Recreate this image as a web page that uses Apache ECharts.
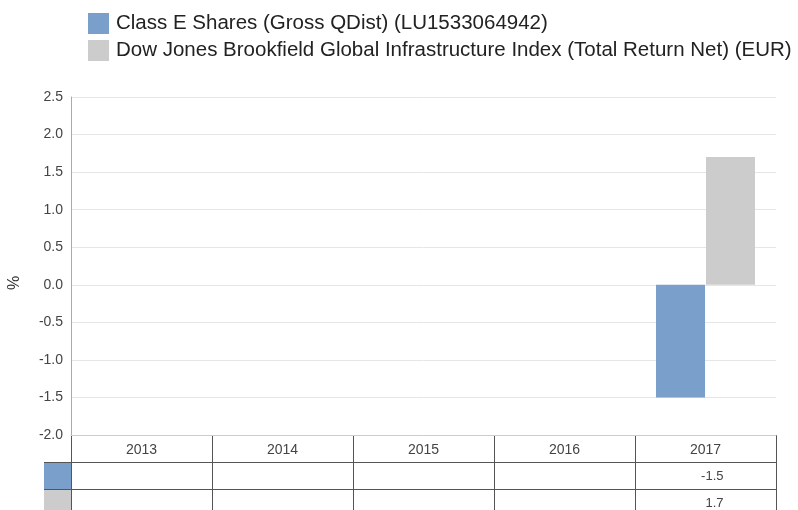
<!DOCTYPE html>
<html>
<head>
<meta charset="utf-8">
<script src="https://cdn.jsdelivr.net/npm/echarts@6/dist/echarts.min.js"></script>
<style>
  html, body { margin: 0; padding: 0; background: #fff; }
  #chart { width: 798px; height: 510px; }
</style>
</head>
<body>
<div id="chart"></div>
<script>
// 数据
var years = ['2013', '2014', '2015', '2016', '2017'];
var seriesNames = [
  'Class E Shares (Gross QDist) (LU1533064942)',
  'Dow Jones Brookfield Global Infrastructure Index (Total Return Net) (EUR)'
];
var fundValues = [null, null, null, null, -1.5];
var indexValues = [null, null, null, null, 1.7];
var colors = ['#7a9fcb', '#cccccc'];

var FONT = '"Liberation Sans", Arial, sans-serif';

var myChart = echarts.init(document.getElementById('chart'));

var option = {
  animation: false,
  textStyle: { fontFamily: FONT },
  legend: {
    orient: 'vertical',
    left: 88,
    top: 13,
    padding: 0,
    itemWidth: 21,
    itemHeight: 21,
    itemGap: 6,
    icon: 'rect',
    textStyle: { fontSize: 20.5, color: '#222', fontFamily: FONT, padding: [0, 0, 0, 2] },
    data: seriesNames
  },
  grid: { left: 71, right: 22, top: 97, bottom: 75, containLabel: false, outerBoundsMode: 'none' },
  xAxis: {
    type: 'category',
    data: years,
    position: 'bottom',
    axisLine: { onZero: false, lineStyle: { color: '#cccccc', width: 1 } },
    axisTick: { show: false },
    axisLabel: { fontSize: 14, color: '#444', margin: 8 },
    splitLine: { show: false }
  },
  yAxis: {
    type: 'value',
    min: -2,
    max: 2.5,
    interval: 0.5,
    name: '%',
    nameLocation: 'middle',
    nameGap: 48,
    nameRotate: 90,
    nameTextStyle: { fontSize: 16, color: '#333', padding: [0, 34, 0, 0] },
    axisLine: { show: true, lineStyle: { color: '#aaaaaa' } },
    axisTick: { show: false },
    axisLabel: {
      fontSize: 14, color: '#444', margin: 8,
      formatter: function (v) { return v.toFixed(1); }
    },
    splitLine: { lineStyle: { color: '#e6e6e6' } }
  },
  series: [
    {
      name: seriesNames[0],
      type: 'bar',
      data: fundValues,
      barWidth: 49,
      barGap: '2%',
      itemStyle: { color: colors[0] }
    },
    {
      name: seriesNames[1],
      type: 'bar',
      data: indexValues,
      barWidth: 49,
      itemStyle: { color: colors[1] }
    }
  ]
};
myChart.setOption(option);

// 数据表
function drawTable() {
  var rect = myChart.getModel().getComponent('grid', 0).coordinateSystem.getRect();
  var bottom = rect.y + rect.height;
  var rowH = 27;
  var c0 = myChart.convertToPixel({ xAxisIndex: 0 }, years[0]);
  var c1 = myChart.convertToPixel({ xAxisIndex: 0 }, years[1]);
  var band = c1 - c0;
  var lineColor = '#555';
  var els = [];
  var swatchLeft = rect.x - 27;

  // 竖线
  for (var i = 0; i <= years.length; i++) {
    var x = Math.round(rect.x + band * i) + 0.5;
    els.push({
      type: 'line', silent: true,
      shape: { x1: x, y1: bottom, x2: x, y2: 510 },
      style: { stroke: lineColor, lineWidth: 1 }
    });
  }
  // 横线
  for (var r = 1; r <= 2; r++) {
    var y = Math.round(bottom + rowH * r) + 0.5;
    els.push({
      type: 'line', silent: true,
      shape: { x1: swatchLeft, y1: y, x2: rect.x + rect.width, y2: y },
      style: { stroke: lineColor, lineWidth: 1 }
    });
  }
  // 色块和数值
  var rows = [fundValues, indexValues];
  for (var s = 0; s < rows.length; s++) {
    var top = Math.round(bottom + rowH * (s + 1)) + 1;
    els.push({
      type: 'rect', silent: true,
      shape: { x: swatchLeft, y: top, width: 27, height: rowH - 1 },
      style: { fill: colors[s] }
    });
    for (var k = 0; k < years.length; k++) {
      if (rows[s][k] == null) continue;
      var cx = myChart.convertToPixel({ xAxisIndex: 0 }, years[k]);
      els.push({
        type: 'text', silent: true,
        x: cx + 18, y: bottom + rowH * (s + 1) + rowH / 2 + 1,
        style: {
          text: rows[s][k].toFixed(1),
          font: '13px ' + FONT,
          fill: '#444',
          align: 'right',
          verticalAlign: 'middle'
        }
      });
    }
  }
  myChart.setOption({ graphic: els });
}
drawTable();
</script>
</body>
</html>
